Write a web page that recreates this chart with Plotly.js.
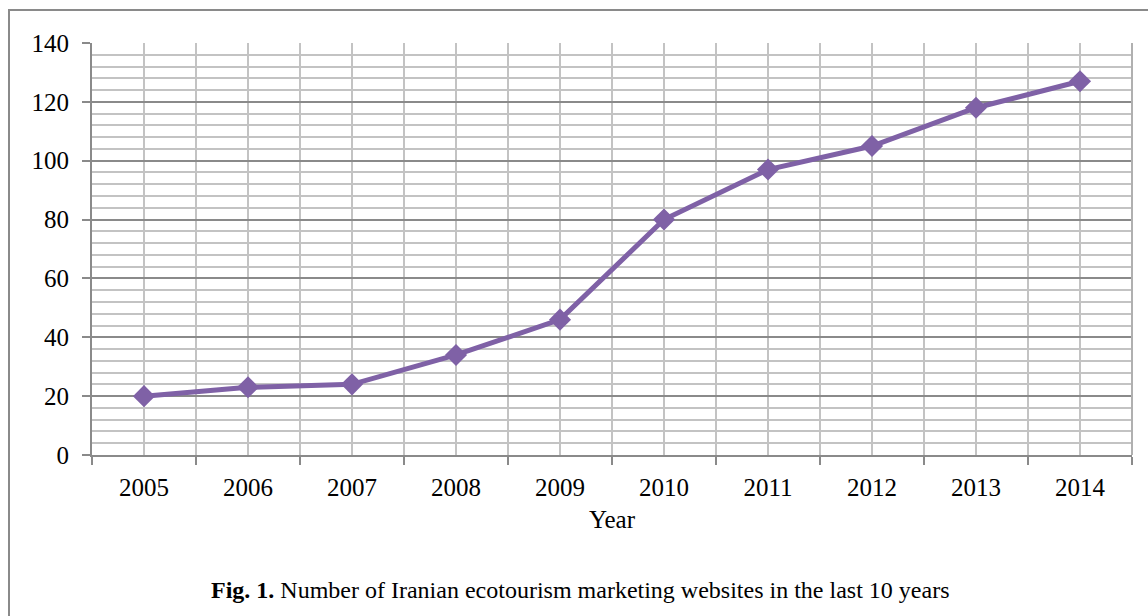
<!DOCTYPE html>
<html>
<head>
<meta charset="utf-8">
<script src="https://cdn.plot.ly/plotly-3.0.1.min.js"></script>
<style>html,body{margin:0;padding:0;background:#fff;}</style>
</head>
<body>
<div id="chart" style="width:1148px;height:616px;"></div>
<script>
const years = [2005, 2006, 2007, 2008, 2009, 2010, 2011, 2012, 2013, 2014];
const websites = [20, 23, 24, 34, 46, 80, 97, 105, 118, 127];
const yearLabels = ["2005","2006","2007","2008","2009","2010","2011","2012","2013","2014"];
const xTitle = "Year";
const caption = "<b>Fig. 1.</b> Number of Iranian ecotourism marketing websites in the last 10 years";

const font = {family: "Liberation Serif, Times New Roman, serif", color: "#000", size: 24};
const tickFont = {family: "Liberation Serif, Times New Roman, serif", color: "#000", size: 25};

const trace = {
  x: years, y: websites, type: "scatter", mode: "lines+markers",
  line: {color: "#7F61A6", width: 5},
  marker: {symbol: "diamond", size: 17, color: "#7F61A6"},
  showlegend: false, hoverinfo: "skip"
};

const layout = {
  width: 1148, height: 616,
  margin: {l: 92, r: 16, t: 43, b: 161},
  paper_bgcolor: "#fff", plot_bgcolor: "#fff",
  font: font,
  xaxis: {
    range: [years[0] - 0.5, years[years.length - 1] + 0.5],
    tickvals: years, ticktext: yearLabels,
    ticks: "outside", ticklen: 8, tickcolor: "rgba(0,0,0,0)",
    ticklabelstandoff: 1,
    showgrid: true, gridcolor: "#c3c3c3", gridwidth: 2,
    minor: {tick0: years[0] - 0.5, dtick: 1, ticks: "outside", ticklen: 8, tickwidth: 2, tickcolor: "#8a8a8a",
            showgrid: true, gridcolor: "#c3c3c3", gridwidth: 2},
    showline: true, linecolor: "#8a8a8a", linewidth: 2, mirror: false,
    zeroline: false, fixedrange: true,
    title: {text: xTitle, font: tickFont, standoff: 10},
    tickfont: tickFont
  },
  yaxis: {
    range: [0, 140], dtick: 20, tick0: 0,
    ticks: "outside", ticklen: 8, tickwidth: 2, tickcolor: "#8a8a8a",
    ticklabelstandoff: 8,
    showgrid: true, gridcolor: "#8a8a8a", gridwidth: 2,
    minor: {dtick: 4, showgrid: true, gridcolor: "#c3c3c3", gridwidth: 2},
    showline: true, linecolor: "#8a8a8a", linewidth: 2,
    zeroline: false, fixedrange: true,
    tickfont: tickFont
  },
  shapes: [
    {type: "rect", xref: "paper", yref: "paper",
     x0: (9 - 92) / 1040, x1: 1.2, y0: -0.6, y1: (455 - 10) / 412,
     line: {color: "#8a8a8a", width: 2}, fillcolor: "rgba(0,0,0,0)", layer: "below"},
    {type: "line", xref: "paper", yref: "paper", x0: 1, x1: 1, y0: 0, y1: 1,
     line: {color: "#b0b0b0", width: 2}}
  ],
  annotations: [
    {xref: "paper", yref: "paper", x: (580 - 92) / 1040, y: (455 - 590) / 412,
     xanchor: "center", yanchor: "middle", showarrow: false,
     text: caption, font: font}
  ]
};

Plotly.newPlot("chart", [trace], layout, {staticPlot: true, displayModeBar: false});
</script>
</body>
</html>
